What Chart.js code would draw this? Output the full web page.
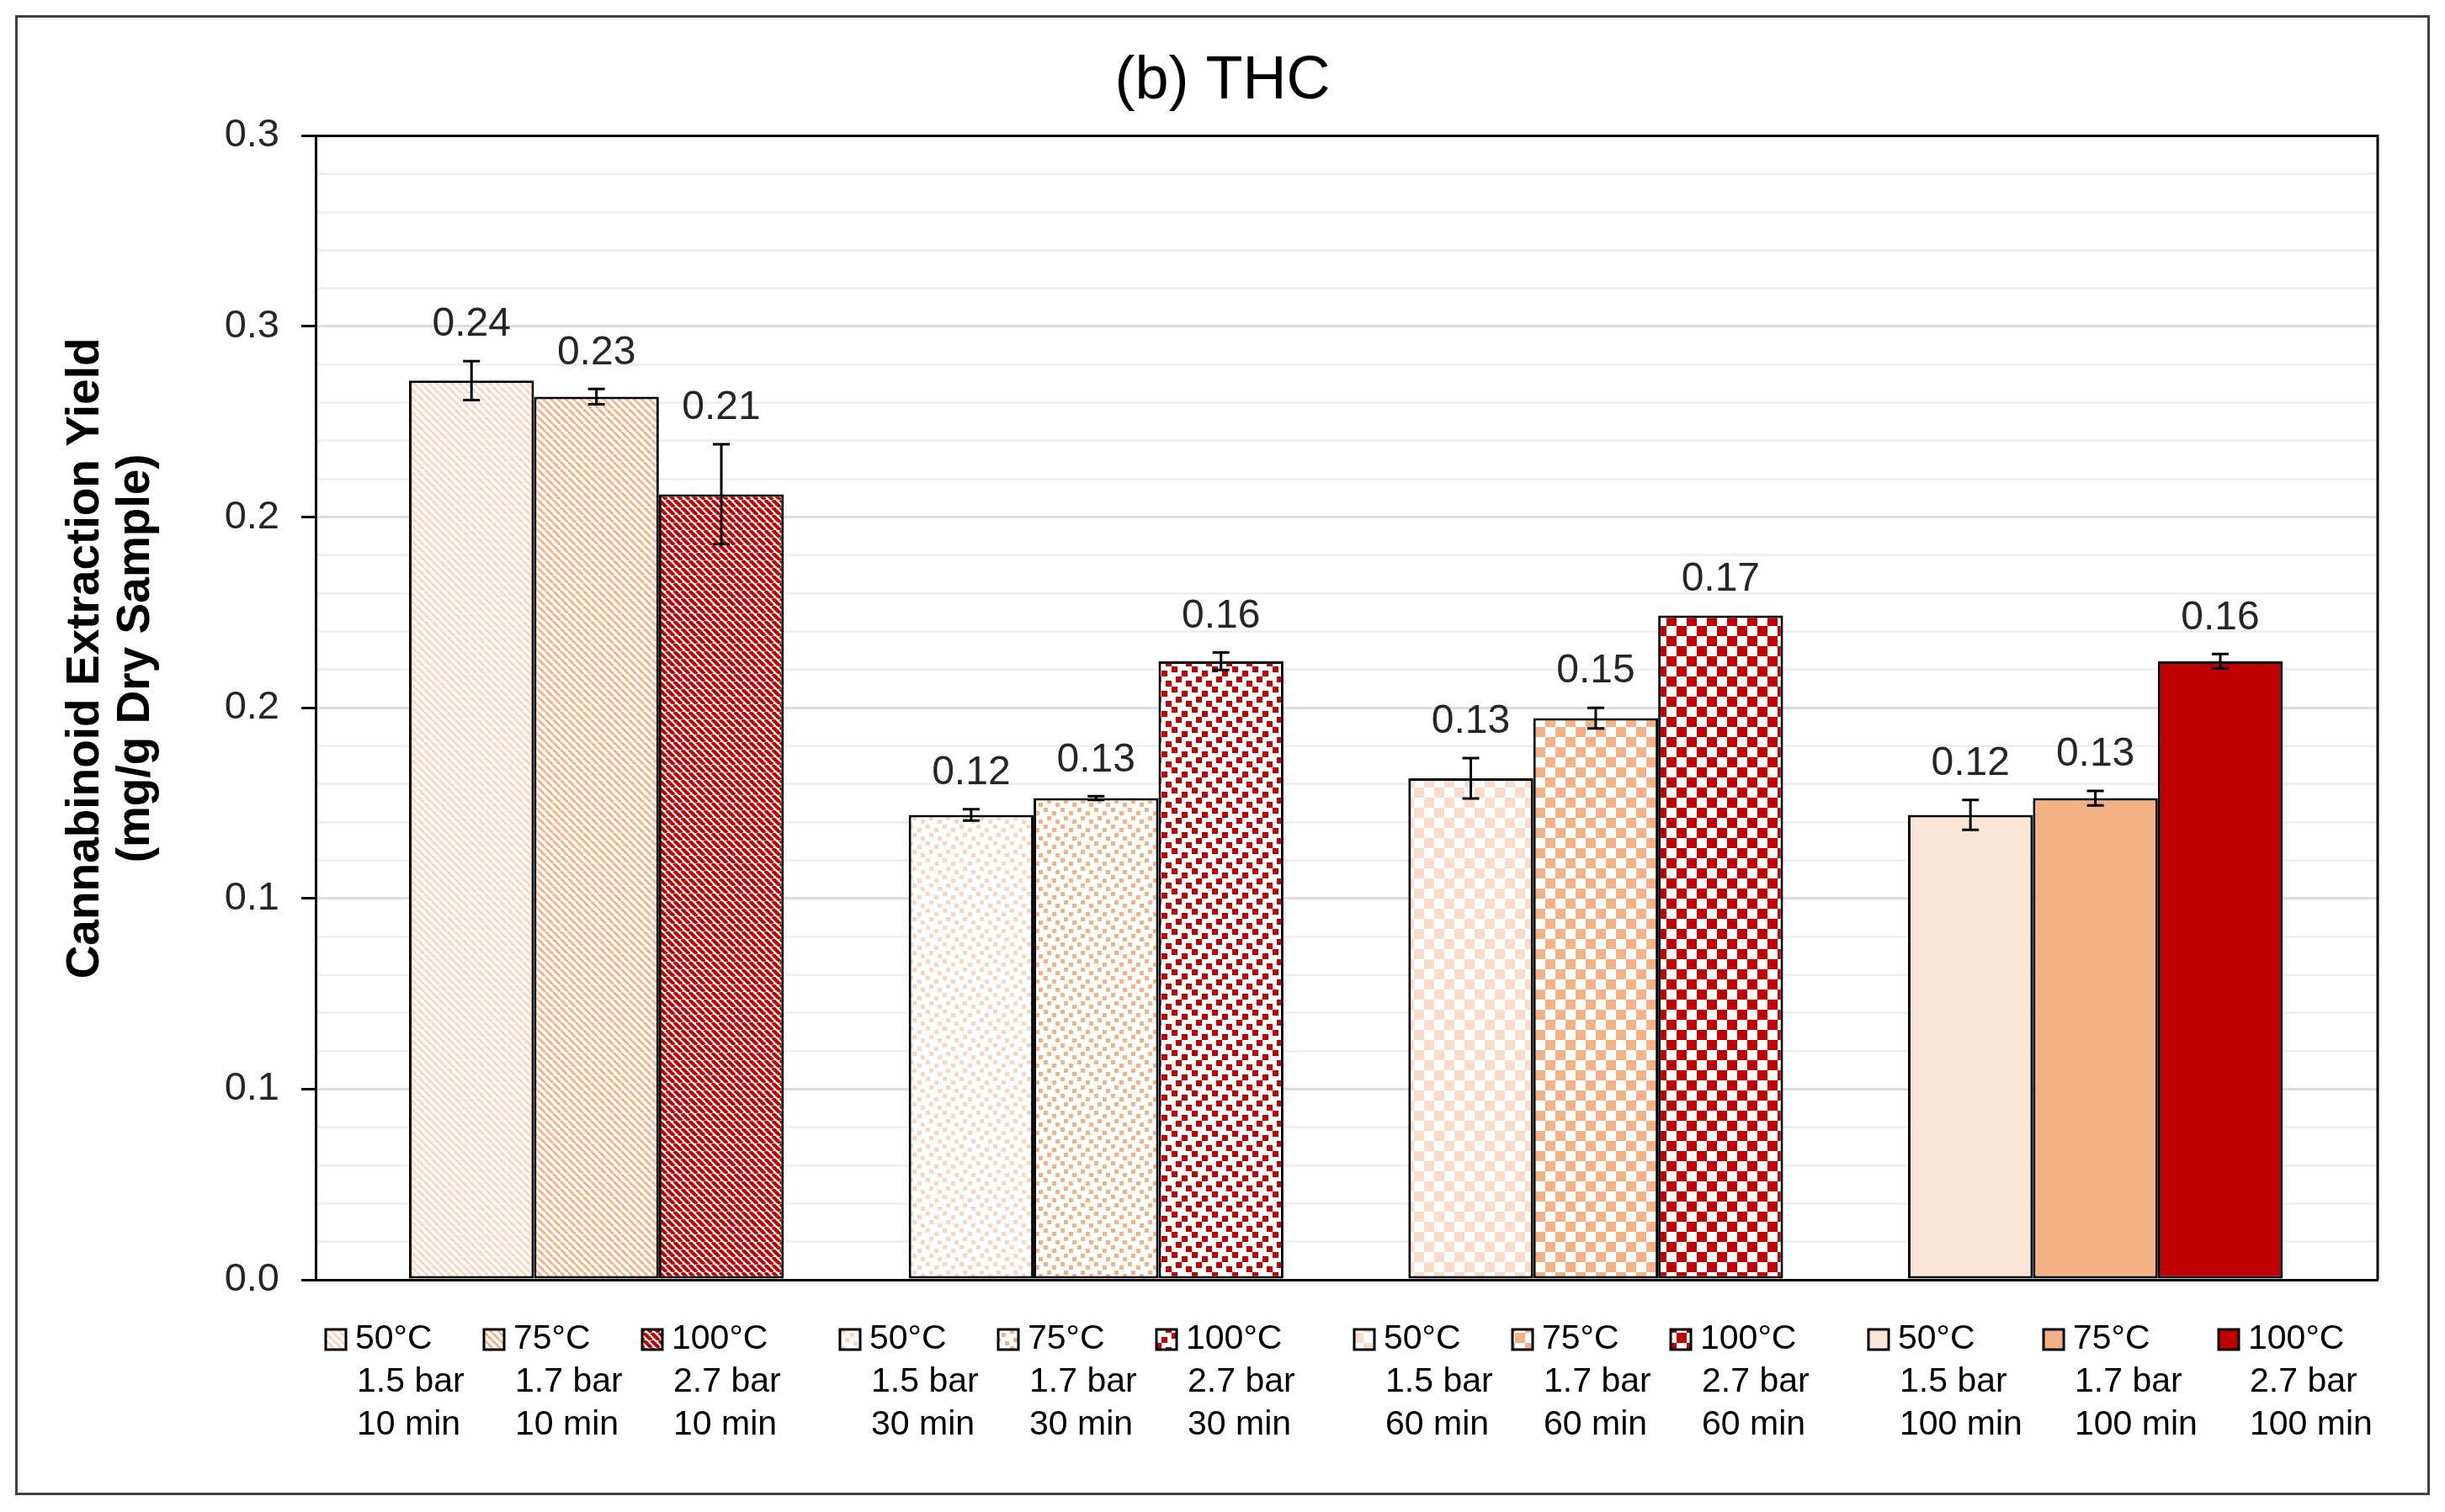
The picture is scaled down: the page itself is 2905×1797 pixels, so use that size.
<!DOCTYPE html>
<html>
<head>
<meta charset="utf-8">
<script src="https://cdn.jsdelivr.net/npm/chart.js@4.4.1/dist/chart.umd.min.js"></script>
<style>
  html, body { margin: 0; padding: 0; background: #fff; }
  canvas { display: block; }
</style>
</head>
<body>
<canvas id="chart" width="2905" height="1797"></canvas>
<script>
const times = ['10 min', '30 min', '60 min', '100 min'];
const temps = ['50°C', '75°C', '100°C'];
const pressures = ['1.5 bar', '1.7 bar', '2.7 bar'];

const yield50 = [0.2358, 0.1219, 0.1315, 0.1219];
const yield75 = [0.2316, 0.1263, 0.1473, 0.1263];
const yield100 = [0.2060, 0.1622, 0.1742, 0.1622];

const err50 = [0.0051, 0.0015, 0.0053, 0.0039];
const err75 = [0.0020, 0.0005, 0.0027, 0.0019];
const err100 = [0.0131, 0.0023, 0.0, 0.0019];

const yTickLabels = ['0.0', '0.1', '0.1', '0.2', '0.2', '0.3', '0.3'];

const FONT = "'Liberation Sans', Arial, sans-serif";

function pattern(kind, color) {
  if (kind === 'solid') return color;
  const c = document.createElement('canvas');
  const g = c.getContext('2d');
  let s;
  if (kind === 'stripe' || kind === 'wideStripe') {
    s = 9;
    c.width = c.height = s;
    g.fillStyle = '#fff';
    g.fillRect(0, 0, s, s);
    g.strokeStyle = color;
    g.lineWidth = kind === 'wideStripe' ? 4.2 : 3;
    for (const o of [-s, 0, s]) {
      g.beginPath();
      g.moveTo(o, 0);
      g.lineTo(o + s, s);
      g.stroke();
    }
  } else if (kind === 'confetti' || kind === 'bigConfetti') {
    s = kind === 'bigConfetti' ? 24 : 20;
    const d = kind === 'bigConfetti' ? 7 : 5;
    c.width = c.height = s;
    g.fillStyle = '#fff';
    g.fillRect(0, 0, s, s);
    g.fillStyle = color;
    [[0, 0], [0.5, 0.2], [0.22, 0.52], [0.72, 0.72]].forEach(([a, b]) => {
      g.fillRect(Math.round(a * s), Math.round(b * s), d, d);
    });
  } else {
    s = 24;
    c.width = c.height = s;
    g.fillStyle = '#fff';
    g.fillRect(0, 0, s, s);
    g.fillStyle = color;
    g.fillRect(0, 0, 12, 12);
    g.fillRect(12, 12, 12, 12);
  }
  return g.createPattern(c, 'repeat');
}

const fill50 = [pattern('stripe', '#F9D6C0'), pattern('confetti', '#F9D6C0'), pattern('checker', '#FADCCA'), '#FBE5D6'];
const fill75 = [pattern('stripe', '#F4B183'), pattern('confetti', '#F4B183'), pattern('checker', '#F4B183'), '#F4B183'];
const fill100 = [pattern('wideStripe', '#C00000'), pattern('bigConfetti', '#C00000'), pattern('checker', '#C00000'), '#C00000'];

const series = [
  { label: temps[0], values: yield50, errors: err50, fills: fill50 },
  { label: temps[1], values: yield75, errors: err75, fills: fill75 },
  { label: temps[2], values: yield100, errors: err100, fills: fill100 },
];

const isMajor = v => Math.round(v * 100) % 5 === 0;

const extras = {
  id: 'extras',
  beforeDraw(chart) {
    const { ctx, width, height } = chart;
    ctx.save();
    ctx.fillStyle = '#fff';
    ctx.fillRect(0, 0, width, height);
    ctx.restore();
  },
  afterDatasetsDraw(chart) {
    const { ctx } = chart;
    const y = chart.scales.y;
    ctx.save();
    ctx.strokeStyle = '#000';
    ctx.lineWidth = 3;
    ctx.fillStyle = '#262626';
    ctx.font = '48px ' + FONT;
    ctx.textAlign = 'center';
    ctx.textBaseline = 'middle';
    chart.data.datasets.forEach((ds, di) => {
      chart.getDatasetMeta(di).data.forEach((bar, i) => {
        const v = ds.data[i].y;
        const e = ds.errors[i];
        const yT = y.getPixelForValue(v + e);
        const yB = y.getPixelForValue(v - e);
        if (e > 0) {
          ctx.beginPath();
          ctx.moveTo(bar.x, yT);
          ctx.lineTo(bar.x, yB);
          ctx.moveTo(bar.x - 10, yT);
          ctx.lineTo(bar.x + 10, yT);
          ctx.moveTo(bar.x - 10, yB);
          ctx.lineTo(bar.x + 10, yB);
          ctx.stroke();
        }
        ctx.fillText(v.toFixed(2), bar.x, Math.min(yT, bar.y) - 43);
      });
    });
    ctx.restore();
  },
  afterDraw(chart) {
    const { ctx, chartArea } = chart;
    ctx.save();

    ctx.strokeStyle = '#000';
    ctx.lineWidth = 3;
    ctx.beginPath();
    ctx.moveTo(chartArea.left, chartArea.top);
    ctx.lineTo(chartArea.right, chartArea.top);
    ctx.lineTo(chartArea.right, chartArea.bottom);
    ctx.stroke();

    ctx.strokeStyle = '#404040';
    ctx.strokeRect(19.5, 19.5, chart.width - 39, chart.height - 41);

    // y axis title
    ctx.fillStyle = '#000';
    ctx.font = 'bold 55px ' + FONT;
    ctx.textAlign = 'center';
    ctx.textBaseline = 'middle';
    ctx.save();
    ctx.translate(chartArea.left - 273, chartArea.top + 621);
    ctx.rotate(-Math.PI / 2);
    ctx.fillText('Cannabinoid Extraction Yield', 0, 0);
    ctx.fillText('(mg/g Dry Sample)', 0, 60);
    ctx.restore();

    // legend entries, one per bar
    ctx.font = '41px ' + FONT;
    ctx.textAlign = 'left';
    const rows = [71, 122, 173].map(d => chartArea.bottom + d);
    const entryStep = [188, 188, 188, 208];
    times.forEach((t, g) => {
      series.forEach((s, j) => {
        const kx = chartArea.left + 12 + g * 611 + j * entryStep[g];
        ctx.fillStyle = s.fills[g];
        ctx.fillRect(kx, rows[0] - 12, 24, 24);
        ctx.strokeStyle = '#000';
        ctx.lineWidth = 3;
        ctx.strokeRect(kx, rows[0] - 12, 24, 24);
        ctx.fillStyle = '#000';
        ctx.fillText(temps[j], kx + 35, rows[0]);
        ctx.fillText(pressures[j], kx + 37, rows[1]);
        ctx.fillText(t, kx + 37, rows[2]);
      });
    });
    ctx.restore();
  }
};

new Chart(document.getElementById('chart'), {
  type: 'bar',
  data: {
    datasets: series.map(s => ({
      label: s.label,
      data: s.values.map((v, i) => ({ x: i, y: v })),
      errors: s.errors,
      backgroundColor: s.fills,
      borderColor: '#000',
      borderWidth: 3,
      borderSkipped: false,
      categoryPercentage: 0.75,
      barPercentage: 1,
    })),
  },
  options: {
    responsive: false,
    devicePixelRatio: 1,
    animation: false,
    layout: { padding: { left: 80, right: 80, top: 0, bottom: 0 } },
    plugins: {
      legend: { display: false },
      tooltip: { enabled: false },
      title: {
        display: true,
        text: '(b) THC',
        color: '#000',
        font: { family: FONT, size: 72, weight: 'normal', lineHeight: 1.2 },
        padding: { top: 54, bottom: 21 },
      },
    },
    scales: {
      x: {
        type: 'linear',
        min: -0.562,
        max: 3.565,
        offset: false,
        ticks: { display: false, stepSize: 1, includeBounds: false },
        grid: { display: false, offset: false },
        border: { color: '#000', width: 3 },
        afterFit: s => { s.height = 276; },
      },
      y: {
        min: 0,
        max: 0.3,
        ticks: {
          stepSize: 0.01,
          autoSkip: false,
          padding: 26,
          color: '#262626',
          font: { family: FONT, size: 47 },
          callback: v => isMajor(v) ? yTickLabels[Math.round(v * 20)] : '',
        },
        grid: {
          color: c => isMajor(c.tick.value) ? '#DCDCDC' : '#F0F0F0',
          lineWidth: 3,
          tickLength: 17,
          tickWidth: 3,
          tickColor: c => isMajor(c.tick.value) ? '#000' : 'rgba(0,0,0,0)',
        },
        border: { color: '#000', width: 3 },
        afterFit: s => { s.width = 295; },
      },
    },
  },
  plugins: [extras],
});
</script>
</body>
</html>
